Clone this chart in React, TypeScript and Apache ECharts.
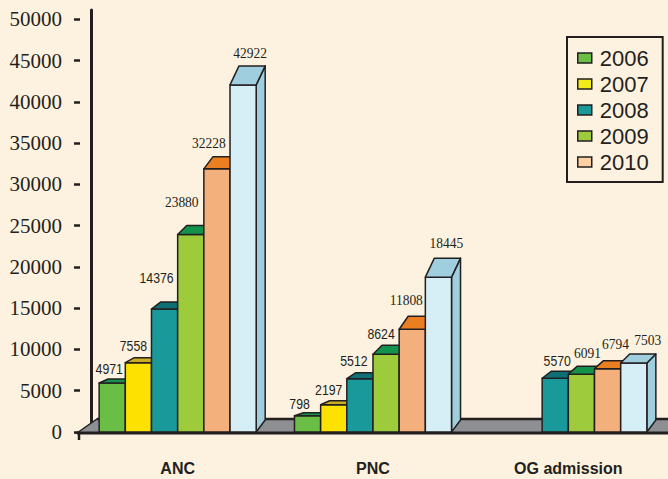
import React, { useEffect, useRef } from 'react';
import * as echarts from 'echarts';

// ---------- data ----------
const categories = ['ANC', 'PNC', 'OG admission'];
const seriesNames = ['2006', '2007', '2008', '2009', '2010', '2011'];
const legendYears = ['2006', '2007', '2008', '2009', '2010'];
const v2006 = [4971, 798, null];
const v2007 = [7558, 2197, null];
const v2008 = [14376, 5512, 5570];
const v2009 = [23880, 8624, 6091];
const v2010 = [32228, 11808, 6794];
const v2011 = [42922, 18445, 7503];
const yTicks = [0, 5000, 10000, 15000, 20000, 25000, 30000, 35000, 40000, 45000, 50000];
const allValues = [v2006, v2007, v2008, v2009, v2010, v2011];

// ---------- styles ----------
const INK = '#231f20';
const BG = '#fdf2df';
const frontColors = ['#6abd45', '#fde100', '#1a999b', '#9dcb3c', '#f3b07c', '#d6eef6'];
const topColors = ['#17924a', '#c9ad22', '#0e7075', '#12924b', '#ea7f22', '#9fcfdf'];
const legendColors = ['#6abd45', '#f3ec1b', '#1a999b', '#9dcb3c', '#fdd0a2'];
// top-face depth in px, per category, per series
const topDepth = [
  [4, 5, 7, 9, 12, 19],
  [3, 4, 6, 9, 13, 19],
  [0, 0, 7, 8, 8, 9],
];
// label nudges [dx, dy] from bar centre / back top edge
const labelNudge = [
  [[-3, -10], [-5, -12], [-8, -24], [-9, -24], [-8, -14], [7, -13]],
  [[-8, -9], [-5, -11], [-6, -12], [-5, -11], [-6, -17], [8, -15]],
  [[0, 0], [0, 0], [2, -10], [6, -13], [8, -17], [14, -14]],
];
// 's' = narrow sans, 'r' = serif
const labelFont = [
  ['s', 's', 's', 'r', 'r', 'r'],
  ['s', 's', 's', 's', 'r', 'r'],
  ['s', 's', 's', 'r', 'r', 'r'],
];
const SANS = '"Liberation Sans", Arial, sans-serif';
const SERIF = '"Liberation Serif", "Times New Roman", serif';

function barRenderer(s: number) {
  return (params: any, api: any) => {
    const cat = api.value(0);
    const v = api.value(1);
    const base = api.coord([cat, 0]);
    const cx = base[0];
    const y0 = base[1];
    const band = api.size([1, 0])[0];
    const w = band * 0.134;
    const x0 = cx - 3 * w + s * w;
    const x1 = x0 + w;
    const yv = api.coord([cat, v])[1];
    // perspective: bar values read against the back wall
    const yT = y0 - 10 - 0.952 * (y0 - yv);
    const dy = topDepth[cat][s];
    const dx = 9;
    const line = { stroke: INK, lineWidth: 1.5, lineJoin: 'round' };
    const nudge = labelNudge[cat][s];
    const isSans = labelFont[cat][s] === 's';
    return {
      type: 'group',
      children: [
        {
          type: 'polygon',
          shape: { points: [[x1, yT], [x1 + dx, yT - dy], [x1 + dx, y0 - 12], [x1, y0]] },
          style: { fill: topColors[s], ...line },
        },
        {
          type: 'rect',
          shape: { x: x0, y: yT, width: w, height: y0 - yT },
          style: { fill: frontColors[s], ...line },
        },
        {
          type: 'polygon',
          shape: { points: [[x0, yT], [x1, yT], [x1 + dx, yT - dy], [x0 + dx, yT - dy]] },
          style: { fill: topColors[s], ...line },
        },
        {
          type: 'text',
          z2: 100,
          x: (x0 + x1) / 2 + nudge[0],
          y: yT - dy + nudge[1],
          scaleX: isSans ? 0.82 : 0.9,
          style: {
            text: String(v),
            x: 0,
            y: 0,
            align: 'center',
            verticalAlign: 'middle',
            fill: INK,
            fontFamily: isSans ? SANS : SERIF,
            fontSize: isSans ? 15 : 15,
          },
        },
      ],
    };
  };
}

function floorRenderer(params: any, api: any) {
  const cs = params.coordSys;
  const y0 = api.coord([0, 0])[1];
  const left = cs.x;
  const right = cs.x + cs.width + 20;
  return {
    type: 'group',
    children: [
      {
        type: 'polygon',
        shape: { points: [[left - 3, y0 + 1], [left + 17, y0 - 13], [right, y0 - 13], [right, y0 + 1]] },
        style: { fill: '#8e8f92', stroke: INK, lineWidth: 1.5 },
      },
      {
        type: 'line',
        shape: { x1: left + 17, y1: y0 - 13, x2: right, y2: y0 - 13 },
        style: { stroke: INK, lineWidth: 2.5 },
      },
      {
        type: 'line',
        shape: { x1: left - 3, y1: y0 + 1, x2: right, y2: y0 + 1 },
        style: { stroke: INK, lineWidth: 3 },
      },
      {
        type: 'line',
        shape: { x1: left - 1, y1: y0 + 1, x2: left - 1, y2: y0 + 8 },
        style: { stroke: INK, lineWidth: 2.5 },
      },
    ],
  };
}

export default function App() {
  const ref = useRef<HTMLDivElement>(null);
  useEffect(() => {
    const chart = echarts.init(ref.current!, null, { renderer: 'svg' });
    const barSeries = seriesNames.map((name, s) => ({
      type: 'custom',
      name,
      renderItem: barRenderer(s),
      data: allValues[s]
        .map((v, i) => (v == null ? null : [i, v]))
        .filter((d) => d !== null),
      itemStyle: { color: frontColors[s] },
      clip: false,
      z: 3,
    }));
    chart.setOption({
      animation: false,
      backgroundColor: BG,
      grid: { left: 80, right: 2, top: 10, bottom: 47 },
      legend: {
        orient: 'vertical',
        left: 567,
        top: 37,
        padding: [10, 14, 9, 10],
        itemGap: 4,
        itemWidth: 14,
        itemHeight: 10,
        borderColor: INK,
        borderWidth: 2,
        backgroundColor: BG,
        textStyle: {
          fontFamily: SANS,
          fontSize: 22,
          lineHeight: 22,
          color: INK,
          padding: [0, 0, 0, 3],
        },
        data: legendYears.map((y, i) => ({
          name: y,
          icon: 'rect',
          itemStyle: { color: legendColors[i], borderColor: INK, borderWidth: 1.5 },
        })),
      },
      xAxis: {
        type: 'category',
        data: categories,
        axisLine: { show: false },
        axisTick: { show: false },
        axisLabel: {
          margin: 28,
          fontFamily: SANS,
          fontWeight: 'bold',
          fontSize: 16,
          color: INK,
        },
      },
      yAxis: [
        {
          type: 'value',
          position: 'left',
          min: 0,
          max: 51150,
          interval: 5000,
          offset: -11,
          axisLine: { show: true, lineStyle: { color: INK, width: 3 } },
          axisTick: { show: false },
          axisLabel: { show: false },
          splitLine: { show: false },
        },
        {
          type: 'value',
          position: 'left',
          min: 0,
          max: 51150,
          interval: 5000,
          offset: 0,
          axisLine: { show: false },
          axisTick: {
            show: true,
            length: 6,
            customValues: yTicks,
            lineStyle: { color: INK, width: 2.5 },
          },
          axisLabel: {
            margin: 18,
            customValues: yTicks,
            formatter: (v: number) => String(v),
            fontFamily: SERIF,
            fontSize: 21,
            color: INK,
          },
          splitLine: { show: false },
        },
      ],
      series: [
        {
          type: 'custom',
          name: 'floor',
          renderItem: floorRenderer,
          data: [[0, 0]],
          clip: false,
          silent: true,
          z: 2,
        },
        ...barSeries,
      ],
    });
    return () => chart.dispose();
  }, []);
  return (
    <div
      ref={ref}
      style={{ position: 'fixed', left: 0, top: 0, width: 668, height: 479 }}
    />
  );
}
